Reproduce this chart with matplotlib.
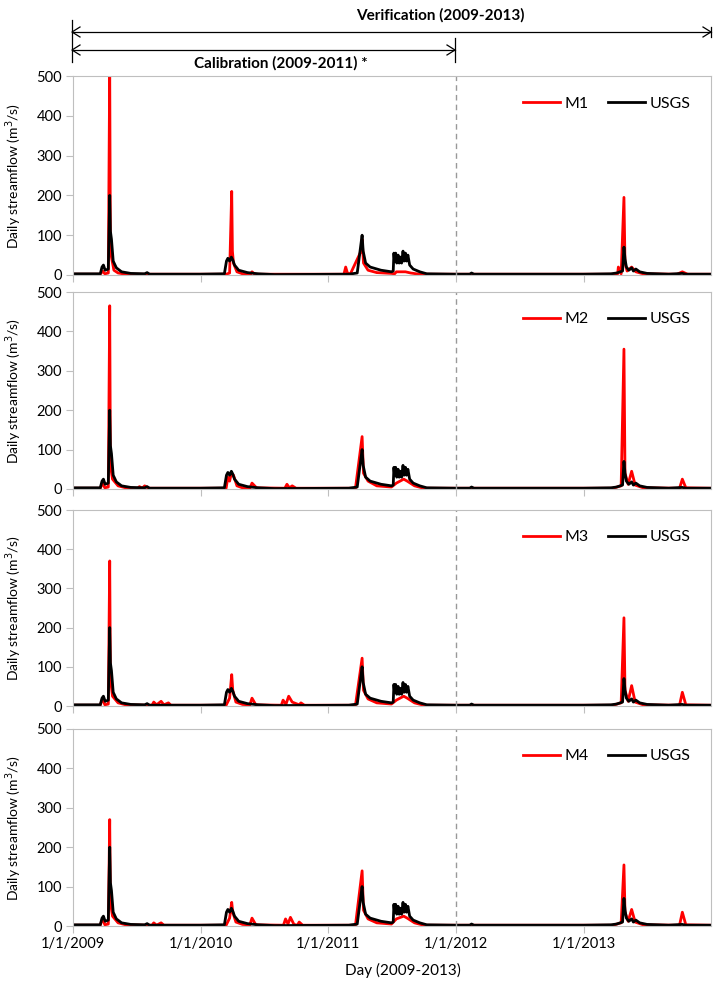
import matplotlib.pyplot as plt
import matplotlib.dates as mdates
import pandas as pd

plt.rcParams['font.family'] = ['Lato', 'DejaVu Sans']

usgs_dates = ['2009-01-01', '2009-03-20', '2009-03-25', '2009-03-29', '2009-04-03', '2009-04-12',
              '2009-04-16', '2009-04-18', '2009-04-21', '2009-04-26', '2009-05-05', '2009-05-20',
              '2009-06-15', '2009-07-25', '2009-08-01', '2009-08-08', '2009-12-31', '2010-03-10',
              '2010-03-16', '2010-03-20', '2010-03-25', '2010-03-30', '2010-04-03', '2010-04-08',
              '2010-04-20', '2010-05-15', '2010-06-15', '2010-08-01', '2011-03-01', '2011-03-25',
              '2011-04-05', '2011-04-08', '2011-04-11', '2011-04-18', '2011-05-01', '2011-06-01',
              '2011-07-01', '2011-07-06', '2011-07-08', '2011-07-10', '2011-07-13', '2011-07-16',
              '2011-07-20', '2011-07-23', '2011-07-27', '2011-07-30', '2011-08-03', '2011-08-06',
              '2011-08-10', '2011-08-13', '2011-08-17', '2011-08-22', '2011-09-01', '2011-09-20',
              '2011-10-10', '2011-12-31', '2012-02-10', '2012-02-15', '2012-02-22', '2012-12-31',
              '2013-03-20', '2013-04-05', '2013-04-22', '2013-04-26', '2013-04-29', '2013-05-03',
              '2013-05-10', '2013-05-18', '2013-05-23', '2013-05-30', '2013-06-10', '2013-07-01',
              '2013-09-01', '2013-10-10', '2013-10-20', '2013-12-31']
usgs_vals = [3, 3, 20, 25, 12, 15,
             200, 110, 90, 35, 18, 8,
             4, 3, 6, 2, 2, 3,
             35, 42, 35, 45, 38, 25,
             12, 6, 3, 1, 2, 5,
             80, 100, 60, 30, 20, 12,
             8, 10, 55, 35, 55, 30,
             50, 30, 45, 30, 60, 35,
             55, 35, 50, 25, 15, 8,
             3, 2, 2, 5, 2, 2,
             3, 5, 10, 70, 40, 20,
             12, 18, 10, 15, 8, 4,
             2, 4, 2, 2]

# model runs
m1_dates = ['2009-01-01', '2009-03-20', '2009-03-27', '2009-04-02', '2009-04-12', '2009-04-16',
            '2009-04-18', '2009-04-22', '2009-04-28', '2009-05-10', '2009-06-01', '2010-03-15',
            '2010-03-25', '2010-03-31', '2010-04-02', '2010-04-05', '2010-04-15', '2010-05-01',
            '2010-05-24', '2010-05-28', '2010-06-05', '2011-02-15', '2011-02-20', '2011-02-25',
            '2011-03-05', '2011-04-05', '2011-04-08', '2011-04-12', '2011-04-25', '2011-05-20',
            '2011-07-01', '2011-07-10', '2011-07-15', '2011-08-10', '2011-08-25', '2011-09-10',
            '2011-10-01', '2013-03-25', '2013-04-08', '2013-04-10', '2013-04-18', '2013-04-26',
            '2013-04-29', '2013-05-05', '2013-05-18', '2013-05-30', '2013-06-20', '2013-09-25',
            '2013-10-10', '2013-10-25', '2013-12-31']
m1_vals = [2, 2, 10, 3, 5, 520,
           60, 40, 12, 5, 2, 2,
           5, 210, 60, 30, 8, 3,
           2, 8, 2, 2, 20, 5,
           2, 60, 90, 30, 12, 6,
           4, 3, 8, 8, 5, 3,
           2, 2, 3, 20, 3, 195,
           30, 10, 20, 8, 3, 2,
           8, 2, 2]

m2_dates = ['2009-01-01', '2009-03-20', '2009-03-27', '2009-04-02', '2009-04-12', '2009-04-16',
            '2009-04-18', '2009-04-24', '2009-05-10', '2009-06-01', '2009-07-05', '2009-07-10',
            '2009-07-18', '2009-07-25', '2009-08-05', '2010-03-15', '2010-03-20', '2010-03-25',
            '2010-03-30', '2010-04-05', '2010-04-15', '2010-05-01', '2010-05-22', '2010-05-28',
            '2010-06-10', '2010-08-30', '2010-09-05', '2010-09-12', '2010-09-20', '2010-10-01',
            '2011-03-20', '2011-04-08', '2011-04-12', '2011-04-25', '2011-05-20', '2011-07-01',
            '2011-07-15', '2011-08-05', '2011-08-15', '2011-09-05', '2011-10-01', '2013-03-25',
            '2013-04-18', '2013-04-26', '2013-04-29', '2013-05-08', '2013-05-18', '2013-05-28',
            '2013-06-20', '2013-10-02', '2013-10-10', '2013-10-20', '2013-12-31']
m2_vals = [2, 2, 15, 3, 5, 465,
           60, 25, 8, 3, 2, 6,
           2, 8, 2, 2, 30, 20,
           40, 35, 8, 3, 2, 15,
           3, 2, 12, 3, 8, 2,
           2, 133, 40, 20, 8, 5,
           15, 25, 20, 8, 2, 2,
           8, 355, 40, 12, 45, 10,
           3, 2, 25, 3, 2]

m3_dates = ['2009-01-01', '2009-03-20', '2009-03-27', '2009-04-02', '2009-04-12', '2009-04-16',
            '2009-04-18', '2009-04-24', '2009-05-10', '2009-06-01', '2009-08-15', '2009-08-20',
            '2009-08-28', '2009-09-10', '2009-09-18', '2009-10-01', '2009-10-08', '2010-03-15',
            '2010-03-25', '2010-03-31', '2010-04-03', '2010-04-12', '2010-05-01', '2010-05-22',
            '2010-05-28', '2010-06-08', '2010-08-20', '2010-08-25', '2010-09-02', '2010-09-10',
            '2010-09-20', '2010-10-10', '2010-10-15', '2010-10-25', '2011-03-20', '2011-04-08',
            '2011-04-12', '2011-04-25', '2011-05-20', '2011-07-01', '2011-07-15', '2011-08-05',
            '2011-08-15', '2011-09-05', '2011-10-01', '2013-03-25', '2013-04-18', '2013-04-26',
            '2013-04-29', '2013-05-08', '2013-05-18', '2013-05-28', '2013-06-20', '2013-10-02',
            '2013-10-10', '2013-10-20', '2013-12-31']
m3_vals = [2, 2, 20, 3, 5, 370,
           70, 25, 8, 3, 2, 10,
           3, 12, 3, 8, 2, 2,
           20, 80, 40, 10, 4, 3,
           20, 3, 2, 15, 4, 25,
           10, 3, 8, 2, 2, 122,
           40, 18, 8, 5, 15, 25,
           20, 8, 2, 2, 8, 225,
           40, 12, 52, 10, 3, 2,
           35, 3, 2]

m4_dates = ['2009-01-01', '2009-03-20', '2009-03-27', '2009-04-02', '2009-04-12', '2009-04-16',
            '2009-04-18', '2009-04-24', '2009-05-10', '2009-06-01', '2009-08-15', '2009-08-20',
            '2009-08-28', '2009-09-10', '2009-09-18', '2010-03-15', '2010-03-25', '2010-03-31',
            '2010-04-03', '2010-04-12', '2010-05-01', '2010-05-22', '2010-05-28', '2010-06-08',
            '2010-08-26', '2010-09-01', '2010-09-08', '2010-09-15', '2010-09-25', '2010-10-05',
            '2010-10-10', '2010-10-20', '2011-03-20', '2011-04-08', '2011-04-12', '2011-04-25',
            '2011-05-20', '2011-07-01', '2011-07-15', '2011-08-05', '2011-08-15', '2011-09-05',
            '2011-10-01', '2013-03-25', '2013-04-18', '2013-04-26', '2013-04-29', '2013-05-08',
            '2013-05-18', '2013-05-28', '2013-06-20', '2013-10-02', '2013-10-10', '2013-10-20',
            '2013-12-31']
m4_vals = [2, 2, 20, 3, 5, 270,
           60, 25, 8, 3, 2, 8,
           2, 8, 2, 2, 20, 60,
           35, 10, 4, 3, 20, 3,
           2, 18, 5, 22, 4, 2,
           10, 2, 2, 140, 40, 18,
           8, 5, 18, 25, 20, 8,
           2, 2, 8, 155, 35, 12,
           42, 10, 3, 2, 35, 3,
           2]

model_names = ['M1', 'M2', 'M3', 'M4']
model_dates = [m1_dates, m2_dates, m3_dates, m4_dates]
model_vals = [m1_vals, m2_vals, m3_vals, m4_vals]

year_ticks = ['2009-01-01', '2010-01-01', '2011-01-01', '2012-01-01', '2013-01-01']
split_date = '2012-01-01'

fig = plt.figure(figsize=(7.19, 9.92), dpi=100)
W, H = 719, 992
left, right = 73, 711
panels = [(76, 275), (292, 489), (510, 706), (729, 926)]
grey = '#BFBFBF'

usgs_t = pd.to_datetime(usgs_dates)
for i in range(4):
    top, bot = panels[i]
    ax = fig.add_axes([left / W, 1 - bot / H, (right - left) / W, (bot - top) / H])
    ax.plot(pd.to_datetime(model_dates[i]), model_vals[i], color='red', lw=2, label=model_names[i])
    ax.plot(usgs_t, usgs_vals, color='black', lw=2, label='USGS')
    ax.axvline(pd.Timestamp(split_date), color='#999999', lw=1, ls=(0, (4, 3)))
    ax.set_xlim(pd.Timestamp('2009-01-01'), pd.Timestamp('2013-12-31'))
    ax.set_ylim(0, 500)
    ax.set_yticks([0, 100, 200, 300, 400, 500])
    ax.set_xticks(pd.to_datetime(year_ticks))
    if i == 3:
        ax.xaxis.set_major_formatter(mdates.DateFormatter('%-m/%-d/%Y'))
    else:
        ax.set_xticklabels([])
    for s in ax.spines.values():
        s.set_color(grey)
    ax.tick_params(axis='both', direction='out', length=5, color=grey, labelsize=10.5, pad=3)
    ax.set_ylabel('Daily streamflow (m$^3$/s)', fontsize=10)
    ax.yaxis.set_label_coords(-0.077, 0.5)
    ax.legend(loc='upper right', ncol=2, frameon=False, fontsize=11.5, handlelength=2.3,
              handletextpad=0.3, columnspacing=1.2, bbox_to_anchor=(0.99, 0.97))

fig.text(403 / W, 1 - 970 / H, 'Day (2009-2013)', ha='center', va='center', fontsize=11)

# period arrows above the first panel
def fx(x):
    return x / W

def fy(y):
    return 1 - y / H

ln = dict(color='black', lw=0.9, transform=fig.transFigure)
fig.add_artist(plt.Line2D([fx(72), fx(72)], [fy(20), fy(62)], **ln))
fig.add_artist(plt.Line2D([fx(455), fx(455)], [fy(38), fy(62)], **ln))
fig.add_artist(plt.Line2D([fx(711), fx(711)], [fy(27), fy(37)], **ln))
fig.add_artist(plt.Line2D([fx(72), fx(711)], [fy(32), fy(32)], **ln))
fig.add_artist(plt.Line2D([fx(72), fx(455)], [fy(50), fy(50)], **ln))
for (x, y, d) in [(72, 32, 1), (711, 32, -1), (72, 50, 1), (455, 50, -1)]:
    fig.add_artist(plt.Line2D([fx(x + 8 * d), fx(x), fx(x + 8 * d)], [fy(y - 5), fy(y), fy(y + 5)], **ln))
fig.text(fx(440), fy(15), 'Verification (2009-2013)', ha='center', va='center',
         fontsize=11, fontweight='bold')
fig.text(fx(281), fy(63), 'Calibration (2009-2011) *', ha='center', va='center',
         fontsize=11, fontweight='bold')

fig.savefig('out.png', dpi=100)
